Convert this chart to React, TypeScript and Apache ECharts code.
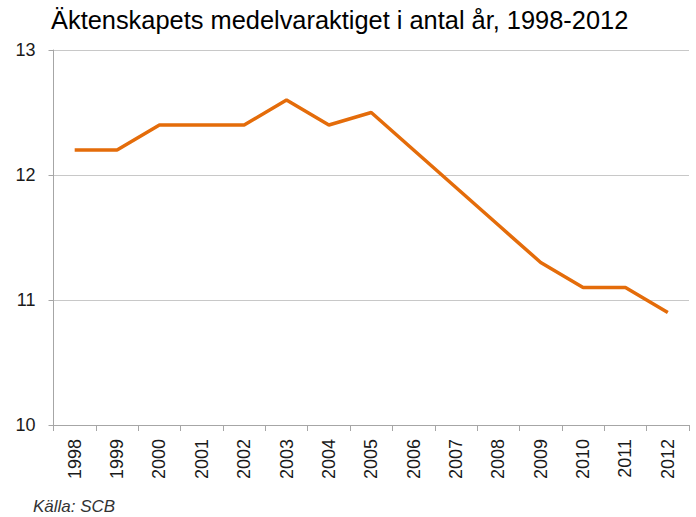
import React, { useEffect, useRef } from "react";
import * as echarts from "echarts";

const years = ["1998","1999","2000","2001","2002","2003","2004","2005","2006","2007","2008","2009","2010","2011","2012"];
const duration = [12.2,12.2,12.4,12.4,12.4,12.6,12.4,12.5,12.2,11.9,11.6,11.3,11.1,11.1,10.9];
const titleText = "Äktenskapets medelvaraktiget i antal år, 1998-2012";
const sourceText = "Källa: SCB";

export default function App() {
  const ref = useRef<HTMLDivElement>(null);
  useEffect(() => {
    document.body.style.margin = "0";
    const chart = echarts.init(ref.current!, null, { renderer: "svg" });
    chart.setOption({
      animation: false,
      backgroundColor: "#ffffff",
      title: {
        text: titleText,
        left: 51,
        top: 7,
        padding: 0,
        textStyle: { fontFamily: "Liberation Sans", fontSize: 25.4, fontWeight: "normal", color: "#000000" },
      },
      graphic: [
        {
          type: "text",
          left: 33,
          top: 498,
          style: {
            text: sourceText,
            fontFamily: "Liberation Sans",
            fontSize: 17,
            fontStyle: "italic",
            fill: "#333333",
          },
        },
      ],
      grid: { left: 53.5, right: 7, top: 50, bottom: 92, containLabel: false },
      xAxis: {
        type: "category",
        data: years,
        boundaryGap: true,
        axisLine: { show: true, lineStyle: { color: "#a6a6a6", width: 1 } },
        axisTick: { show: true, interval: 0, length: 6, lineStyle: { color: "#a6a6a6" } },
        axisLabel: { interval: 0, rotate: 90, margin: 14, fontFamily: "Liberation Sans", fontSize: 18, color: "#1a1a1a" },
        splitLine: { show: false },
      },
      yAxis: {
        type: "value",
        min: 10,
        max: 13,
        interval: 1,
        axisLine: { show: true, lineStyle: { color: "#a6a6a6", width: 1 } },
        axisTick: { show: true, length: 5, lineStyle: { color: "#a6a6a6" } },
        axisLabel: { margin: 18, fontFamily: "Liberation Sans", fontSize: 18, color: "#1a1a1a" },
        splitLine: { show: true, lineStyle: { color: "#c8c8c8", width: 1 } },
      },
      series: [
        {
          type: "line",
          data: duration,
          showSymbol: false,
          symbol: "none",
          lineStyle: { color: "#E46C0A", width: 3.5 },
          itemStyle: { color: "#E46C0A" },
        },
      ],
    });
    return () => chart.dispose();
  }, []);
  return <div ref={ref} style={{ position: "fixed", left: 0, top: 0, width: 696, height: 517 }} />;
}
